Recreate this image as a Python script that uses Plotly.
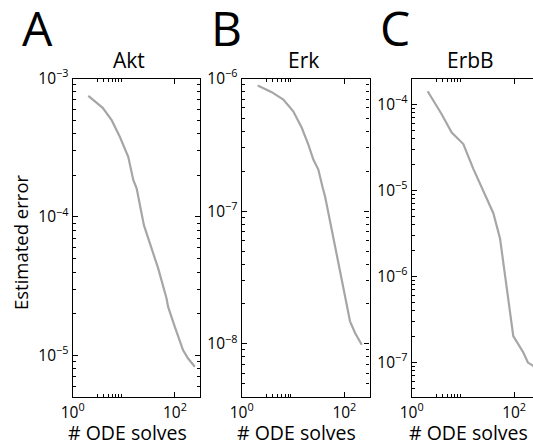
import plotly.graph_objects as go

# Number of ODE solves (x) and estimated error (y) for each model
akt_solves = [2.02, 3.86, 5.78, 8.39, 12.2, 15.3, 17.8, 20.6, 24.7, 32.4, 47.0, 68.5, 73.6, 99.5, 144.5, 181.1, 244.9]
akt_error = [7.48e-4, 6.14e-4, 5.00e-4, 3.78e-4, 2.72e-4, 1.85e-4, 1.61e-4, 1.25e-4, 8.73e-5, 6.44e-5, 4.25e-5, 2.58e-5, 2.24e-5, 1.61e-5, 1.09e-5, 9.50e-6, 8.28e-6]

erk_solves = [2.05, 3.85, 6.47, 10.1, 14.8, 19.9, 24.9, 31.1, 37.9, 42.1, 56.8, 76.4, 103.3, 129.1, 161.8, 218.3]
erk_error = [8.85e-7, 7.89e-7, 6.95e-7, 5.66e-7, 4.25e-7, 3.18e-7, 2.45e-7, 2.06e-7, 1.50e-7, 1.29e-7, 7.26e-8, 4.07e-8, 2.22e-8, 1.48e-8, 1.21e-8, 9.86e-9]

erbb_solves = [2.05, 3.85, 6.04, 10.2, 16.0, 25.0, 39.3, 53.1, 66.4, 83.2, 96.4, 151.4, 186.2, 233.9, 281.8]
erbb_error = [1.42e-4, 7.67e-5, 4.70e-5, 3.46e-5, 1.78e-5, 1.00e-5, 5.43e-6, 2.77e-6, 9.93e-7, 3.46e-7, 2.03e-7, 1.31e-7, 1.0e-7, 9.2e-8, 7.9e-8]

panel_letters = ["A", "B", "C"]
panel_titles = ["Akt", "Erk", "ErbB"]

x_tickvals = [1, 100]
x_ticktext = ["10<sup>0</sup>", "10<sup>2</sup>"]
x_minor = [3, 4, 5, 6, 7, 8, 9]

akt_yticks = [1e-5, 1e-4, 1e-3]
akt_ytext = ["10<sup>\u22125</sup>", "10<sup>\u22124</sup>", "10<sup>\u22123</sup>"]
erk_yticks = [1e-8, 1e-7, 1e-6]
erk_ytext = ["10<sup>\u22128</sup>", "10<sup>\u22127</sup>", "10<sup>\u22126</sup>"]
erbb_yticks = [1e-7, 1e-6, 1e-5, 1e-4]
erbb_ytext = ["10<sup>\u22127</sup>", "10<sup>\u22126</sup>", "10<sup>\u22125</sup>", "10<sup>\u22124</sup>"]

W, H = 533, 446
FONT = "Open Sans"
LINE = "#a6a6a6"


def px(x):
    return x / W


def py(y):
    return 1 - y / H


def minor_decades(lo, hi):
    vals = []
    for e in range(lo, hi + 1):
        for m in range(2, 10):
            vals.append(m * 10.0 ** e)
    return vals


fig = go.Figure()
series = [(akt_solves, akt_error), (erk_solves, erk_error), (erbb_solves, erbb_error)]
for i, (xs, ys) in enumerate(series):
    sfx = "" if i == 0 else str(i + 1)
    fig.add_trace(go.Scatter(x=xs, y=ys, mode="lines", xaxis="x" + sfx, yaxis="y" + sfx,
                             line=dict(color=LINE, width=2.2), showlegend=False))

top, bottom = 78.5, 397
ydom = [py(bottom), py(top)]
xdoms = [[px(72.7), px(200)], [px(241.7), px(369.5)], [px(411.7), 1.0]]
xranges = [[0, 2.49], [0, 2.49], [0, (533 - 411.7) / 51.2]]
yranges = [[-5.30, -3.0], [-8.40, -6.0], [-7.40, -3.70]]
yticks = [(akt_yticks, akt_ytext, minor_decades(-6, -4)),
          (erk_yticks, erk_ytext, minor_decades(-9, -7)),
          (erbb_yticks, erbb_ytext, minor_decades(-8, -4))]

tickfont = dict(family=FONT, size=15.5, color="black")
layout = {}
for i in range(3):
    sfx = "" if i == 0 else str(i + 1)
    layout["xaxis" + sfx] = dict(
        type="log", domain=xdoms[i], range=xranges[i], anchor="y" + sfx,
        automargin=False, ticklabelstandoff=1,
        tickmode="array", tickvals=x_tickvals, ticktext=x_ticktext,
        ticks="inside", ticklen=5, tickwidth=1, tickcolor="black",
        minor=dict(tickmode="array", tickvals=x_minor, ticks="inside", ticklen=3,
                   tickwidth=1, tickcolor="black", showgrid=False),
        showline=True, linecolor="black", linewidth=1.2, mirror="allticks",
        showgrid=False, zeroline=False, tickfont=tickfont,
    )
    tv, tt, mv = yticks[i]
    layout["yaxis" + sfx] = dict(
        type="log", domain=ydom, range=yranges[i], anchor="x" + sfx,
        automargin=False,
        tickmode="array", tickvals=tv, ticktext=tt,
        ticks="inside", ticklen=5, tickwidth=1, tickcolor="black",
        minor=dict(tickmode="array", tickvals=mv, ticks="inside", ticklen=3,
                   tickwidth=1, tickcolor="black", showgrid=False),
        showline=True, linecolor="black", linewidth=1.2,
        mirror=("allticks" if i < 2 else False),
        showgrid=False, zeroline=False, tickfont=tickfont,
    )


def label(text, x, y, size, angle=0):
    return dict(text=text, x=px(x), y=py(y), xref="paper", yref="paper",
                xanchor="center", yanchor="middle", showarrow=False, textangle=angle,
                font=dict(family=FONT, size=size, color="black"))


annotations = []
letter_x = [37, 226, 395]
title_x = [129, 303, 470]
xlabel_x = [127.5, 296.7, 468]
for i in range(3):
    annotations.append(label(panel_letters[i], letter_x[i], 28, 48))
    annotations.append(label(panel_titles[i], title_x[i], 60, 21))
    annotations.append(label("# ODE solves", xlabel_x[i], 432, 19.5))
annotations.append(label("Estimated error", 20, 242, 18.5, angle=-90))

fig.update_layout(width=W, height=H, margin=dict(l=0, r=0, t=0, b=0),
                  paper_bgcolor="white", plot_bgcolor="white",
                  annotations=annotations, **layout)

fig.write_html("out.html")
